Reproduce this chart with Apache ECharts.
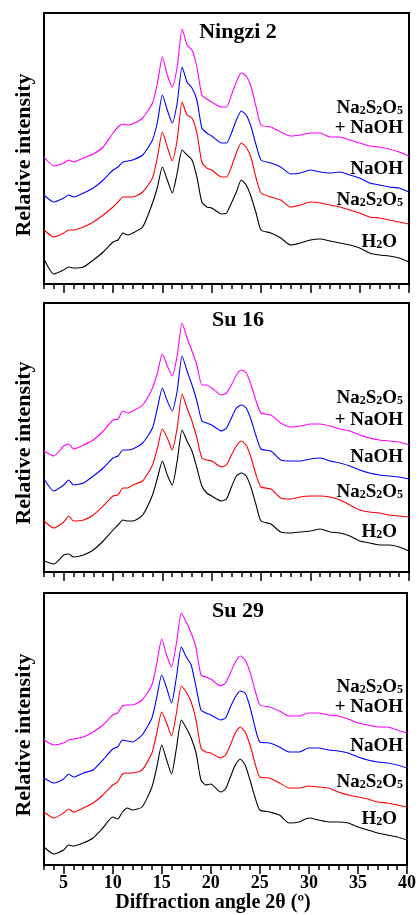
<!DOCTYPE html>
<html>
<head>
<meta charset="utf-8">
<script src="https://cdn.jsdelivr.net/npm/echarts@6/dist/echarts.min.js"></script>
<style>
  html, body { margin: 0; padding: 0; background: #fff; }
  #chart { width: 419px; height: 915px; }
</style>
</head>
<body>
<div id="chart"></div>
<script>
// 2θ grid shared by all traces
var angles = [3,4,5,5.5,6,7,8,9,10,10.5,11,11.5,12,13,14,14.5,15,15.5,16,16.5,17,17.5,18,18.5,19,19.5,20,21,21.5,22,22.5,23,23.5,24,24.5,25,26,27,28,29,30,31,32,33,34,35,36,37,38,39,40];
var majorTicks = [5,10,15,20,25,30,35,40];
var panelTitles = ['Ningzi 2', 'Su 16', 'Su 29'];

// Ningzi 2 (stacked intensities, a.u.)
var ningziH2O    = [25,10,14,17,16,17,24,32,42,44,51,49,51,57,81,97,117,104,91,111,134,129,124,107,82,77,76,70,71,81,92,104,99,87,71,54,51,46,39,41,44,45,43,41,39,36,31,29,28,26,22];
var ningziNa2S2O5= [54,47,51,54,54,57,62,69,77,82,87,87,87,92,106,127,152,137,123,144,182,169,166,151,122,116,114,107,107,117,131,141,137,126,106,91,87,84,77,79,82,81,79,77,74,71,67,66,64,62,60];
var ningziNaOH   = [89,82,86,89,87,91,96,104,114,117,122,123,124,129,144,162,189,174,161,181,217,202,196,184,156,151,148,141,141,151,164,173,169,157,139,124,121,117,110,111,114,112,111,112,109,106,101,99,97,96,92];
var ningziMix    = [127,118,121,124,122,126,130,137,151,157,160,159,160,166,181,201,227,209,197,217,255,239,234,217,189,185,182,177,177,189,202,211,208,197,177,159,157,152,148,149,151,151,147,147,144,141,138,137,135,132,128];

// Su 16
var su16H2O      = [11,8,17,18,15,17,22,31,42,47,52,51,51,57,77,94,111,97,87,111,142,131,121,104,86,79,76,71,73,85,96,99,96,84,67,51,48,40,39,40,41,43,40,39,36,31,29,27,27,25,21];
var su16Na2S2O5  = [51,44,50,56,51,52,57,66,76,77,84,84,87,91,107,124,143,134,122,144,178,164,151,134,114,112,111,105,107,117,126,131,127,114,97,85,83,74,73,75,76,76,75,72,67,62,60,59,57,56,55];
var su16NaOH     = [93,81,87,92,87,89,96,104,114,116,122,122,123,129,144,164,184,171,161,181,216,201,187,171,151,149,147,141,144,154,164,167,164,152,136,123,121,112,111,111,113,114,111,109,106,102,99,97,96,95,93];
var su16Mix      = [121,116,126,128,123,127,132,141,152,153,161,159,161,167,184,199,218,206,196,216,249,234,221,207,187,187,184,177,179,187,197,202,199,187,171,159,157,149,145,146,148,148,146,143,141,137,134,132,131,130,127];

// Su 29
var su29H2O      = [18,11,15,20,19,22,27,37,48,46,53,57,55,58,78,98,120,105,91,117,145,137,127,112,85,80,81,73,76,88,100,106,100,85,68,55,53,50,42,43,47,45,43,43,42,38,35,32,30,28,25];
var su29Na2S2O5  = [53,47,52,56,53,57,62,70,80,83,91,92,92,95,112,132,153,142,129,152,179,173,163,145,117,113,112,107,110,120,132,138,133,120,102,88,87,82,77,77,79,78,77,73,70,68,66,63,62,60,58];
var su29NaOH     = [87,82,86,91,88,92,95,105,116,118,125,124,123,130,147,168,190,177,162,188,218,208,200,178,155,152,150,145,147,158,168,174,172,158,138,123,122,118,113,113,117,117,115,114,112,108,105,103,102,100,97];
var su29Mix      = [125,120,122,125,126,128,133,140,150,152,159,160,160,165,180,202,226,210,198,222,252,243,232,217,190,188,186,179,182,192,203,209,205,193,175,160,158,154,149,149,152,152,150,149,146,142,140,138,138,135,132];

var panels = [
  [ningziH2O, ningziNa2S2O5, ningziNaOH, ningziMix],
  [su16H2O, su16Na2S2O5, su16NaOH, su16Mix],
  [su29H2O, su29Na2S2O5, su29NaOH, su29Mix]
];
var colors = ['#000000', '#ff0000', '#0000ff', '#ff00ff'];
var panelBox = [
  {top: 13, height: 271},
  {top: 303, height: 269},
  {top: 593, height: 272}
];

var serif = '"Liberation Serif", "Times New Roman", serif';

function pairs(vals) {
  return angles.map(function (a, i) { return [a, vals[i]]; });
}

var grids = [], xAxes = [], yAxes = [], series = [], graphics = [];

panelBox.forEach(function (box, p) {
  grids.push({
    left: 44, width: 365, top: box.top, height: box.height,
    show: true, borderColor: '#000', borderWidth: 2, backgroundColor: 'transparent'
  });
  // small ticks every degree
  xAxes.push({
    gridIndex: p, type: 'value', position: 'bottom', min: 3, max: 40, interval: 1,
    axisLine: {show: false},
    axisTick: {show: true, length: 5, lineStyle: {color: '#000', width: 1.5}},
    axisLabel: {show: false},
    splitLine: {show: false}
  });
  // long ticks every 5 degrees, labels only on the bottom panel
  xAxes.push({
    gridIndex: p, type: 'value', position: 'bottom', min: 3, max: 40,
    axisLine: {show: false},
    axisTick: {show: true, length: 9, customValues: majorTicks, lineStyle: {color: '#000', width: 1.5}},
    axisLabel: {
      show: p === 2, customValues: majorTicks, margin: 9,
      color: '#000', fontFamily: serif, fontWeight: 'bold', fontSize: 18
    },
    splitLine: {show: false}
  });
  yAxes.push({
    gridIndex: p, type: 'value', min: 0, max: box.height, show: false
  });

  panels[p].forEach(function (vals, k) {
    series.push({
      type: 'line', xAxisIndex: p * 2, yAxisIndex: p,
      data: pairs(vals), showSymbol: false, smooth: 0.2,
      lineStyle: {color: colors[k], width: 1.1}, silent: true
    });
  });
});

var richStyle = {
  n: {fontSize: 19, fontWeight: 'bold', fontFamily: serif, fill: '#000', verticalAlign: 'bottom', lineHeight: 20},
  s: {fontSize: 12, fontWeight: 'bold', fontFamily: serif, fill: '#000', verticalAlign: 'bottom', lineHeight: 20, padding: [0, 0, 1, 0]}
};
var Na2S2O5 = '{n|Na}{s|2}{n|S}{s|2}{n|O}{s|5}';

function label(txt, x, y) {
  graphics.push({
    type: 'text', x: x, y: y, silent: true,
    style: {text: txt, rich: richStyle, align: 'right', verticalAlign: 'middle'}
  });
}

// label rows per panel: mix line1, mix line2, NaOH, Na2S2O5, H2O
var labelY = [
  [108, 128, 169, 200, 242],
  [398, 420, 457, 492, 532],
  [687, 707, 746, 782, 819]
];
var titleY = [32, 320, 611];
var yNameY = [155, 443, 735];

labelY.forEach(function (r, p) {
  label(Na2S2O5, 403, r[0]);
  label('{n|+ NaOH}', 403, r[1]);
  label('{n|NaOH}', 403, r[2]);
  label(Na2S2O5, 403, r[3]);
  label('{n|H}{s|2}{n|O}', 397, r[4]);
  graphics.push({
    type: 'text', x: 238, y: titleY[p], silent: true,
    style: {text: panelTitles[p], fontSize: 22, fontWeight: 'bold', fontFamily: serif,
            fill: '#000', align: 'center', verticalAlign: 'middle'}
  });
  graphics.push({
    type: 'text', x: 24, y: yNameY[p], rotation: Math.PI / 2, silent: true,
    style: {text: 'Relative intensity', fontSize: 22, fontWeight: 'bold', fontFamily: serif,
            fill: '#000', align: 'center', verticalAlign: 'middle'}
  });
});

graphics.push({
  type: 'text', x: 213, y: 903, silent: true,
  style: {text: 'Diffraction angle 2θ (º)', fontSize: 20, fontWeight: 'bold', fontFamily: serif,
          fill: '#000', align: 'center', verticalAlign: 'middle'}
});

var myChart = echarts.init(document.getElementById('chart'));
var option = {
  animation: false,
  backgroundColor: '#fff',
  grid: grids,
  xAxis: xAxes,
  yAxis: yAxes,
  series: series,
  graphic: graphics
};
myChart.setOption(option);
</script>
</body>
</html>
